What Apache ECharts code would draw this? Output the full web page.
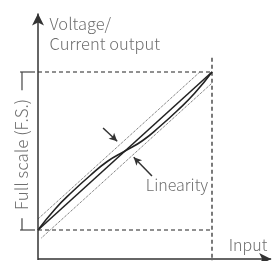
<!DOCTYPE html>
<html>
<head>
<meta charset="utf-8">
<script src="https://cdn.jsdelivr.net/npm/echarts@6/dist/echarts.min.js"></script>
<style>
  html, body { margin: 0; padding: 0; background: #fff; }
  #main { width: 277px; height: 261px; }
</style>
</head>
<body>
<div id="main"></div>
<script>
// input / output in full-scale units (0..1)
var inputs = [0, 0.1, 0.2, 0.3, 0.4, 0.5, 0.6, 0.7, 0.8, 0.9, 1];
var actualOutput = [0, 0.135, 0.245, 0.345, 0.435, 0.5, 0.565, 0.655, 0.755, 0.865, 1];
var idealInputs = [0, 1];
var idealOutput = [0, 1];
// linearity band (parallel dotted lines)
var upperBandInputs = [0, 0.93];
var upperBandOutput = [0.07, 1.0];
var lowerBandInputs = [0.02, 1];
var lowerBandOutput = [-0.05, 0.93];

var labels = {
  yName: 'Voltage/\nCurrent output',
  xName: 'Input',
  fullScale: 'Full scale (F.S.)',
  linearity: 'Linearity'
};

function pairs(xs, ys) {
  return xs.map(function (x, i) { return [x, ys[i]]; });
}

var W = 277, H = 261;
// pixel box of the 0..1 full-scale square
var box = { left: 38, right: 212, top: 72, bottom: 230 };
var sx = box.right - box.left, sy = box.bottom - box.top;

var chartDom = document.getElementById('main');
var myChart = echarts.init(chartDom);
var option;

var ink = '#222';
var textColor = '#4a4a4a';
var font = '"Noto Sans CJK JP", "Noto Sans", sans-serif';

function seg(data, type, width, color) {
  return {
    type: 'line',
    data: data,
    clip: false,
    silent: true,
    showSymbol: false,
    symbol: 'none',
    lineStyle: { color: color || ink, width: width || 1, type: type || 'solid' }
  };
}

function textPoint(pos, text, label) {
  return {
    type: 'scatter',
    clip: false,
    silent: true,
    symbolSize: 1,
    itemStyle: { color: 'rgba(0,0,0,0)' },
    data: [pos],
    label: Object.assign({
      show: true,
      formatter: text,
      color: textColor,
      fontFamily: font,
      fontWeight: 300,
      fontSize: 16
    }, label)
  };
}

function arrow(from, to, size) {
  return [{ coord: from, symbol: 'none' }, { coord: to, symbol: 'arrow', symbolSize: size }];
}

option = {
  animation: false,
  grid: { left: 0, right: 0, top: 0, bottom: 0 },
  xAxis: { type: 'value', min: -box.left / sx, max: (W - box.left) / sx, show: false },
  yAxis: { type: 'value', min: -(H - box.bottom) / sy, max: box.bottom / sy, show: false },
  series: [
    // full-scale guides
    seg([[0, 1], [1, 1]], [4, 3], 1.2),
    seg([[0, 0], [1, 0]], [4, 3], 1.2),
    seg([[1, 1.09], [1, -0.2]], [4, 3], 1.2),
    // bracket, broken where the label sits
    seg([[-0.103, 1], [-0.017, 1]], 'solid', 1.2, '#444'),
    seg([[-0.103, 0], [-0.017, 0]], 'solid', 1.2, '#444'),
    seg([[-0.092, 1], [-0.092, 0.885]], 'solid', 1.2, '#444'),
    seg([[-0.092, 0.075], [-0.092, 0]], 'solid', 1.2, '#444'),
    // linearity band
    seg(pairs(upperBandInputs, upperBandOutput), 'dotted', 1, '#555'),
    seg(pairs(lowerBandInputs, lowerBandOutput), 'dotted', 1, '#555'),
    // ideal and actual output
    seg(pairs(idealInputs, idealOutput), 'solid', 1.6),
    Object.assign(seg(pairs(inputs, actualOutput), 'solid', 1.6), { smooth: true }),
    // axes and annotation arrows
    {
      type: 'line',
      data: [],
      clip: false,
      silent: true,
      markLine: {
        silent: true,
        animation: false,
        label: { show: false },
        lineStyle: { color: '#333', width: 1.5, type: 'solid' },
        data: [
          arrow([0, -0.19], [0, 1.37], [9, 12]),
          arrow([0, -0.184], [1.34, -0.184], [9, 12]),
          arrow([0.374, 0.646], [0.455, 0.562], [6, 8]),
          arrow([0.655, 0.342], [0.55, 0.46], [6, 8])
        ]
      }
    },
    textPoint([0.069, 1.24], labels.yName, { position: [0, -20], align: 'left', verticalAlign: 'top', lineHeight: 20, fontSize: 16.5 }),
    textPoint([1.207, -0.095], labels.xName, { position: 'inside', align: 'center', verticalAlign: 'middle' }),
    textPoint([0.799, 0.285], labels.linearity, { position: 'inside', align: 'center', verticalAlign: 'middle' }),
    textPoint([-0.092, 0.478], labels.fullScale, {
      position: 'inside', rotate: 90, align: 'center', verticalAlign: 'middle', fontSize: 17
    })
  ]
};

option && myChart.setOption(option);
</script>
</body>
</html>
